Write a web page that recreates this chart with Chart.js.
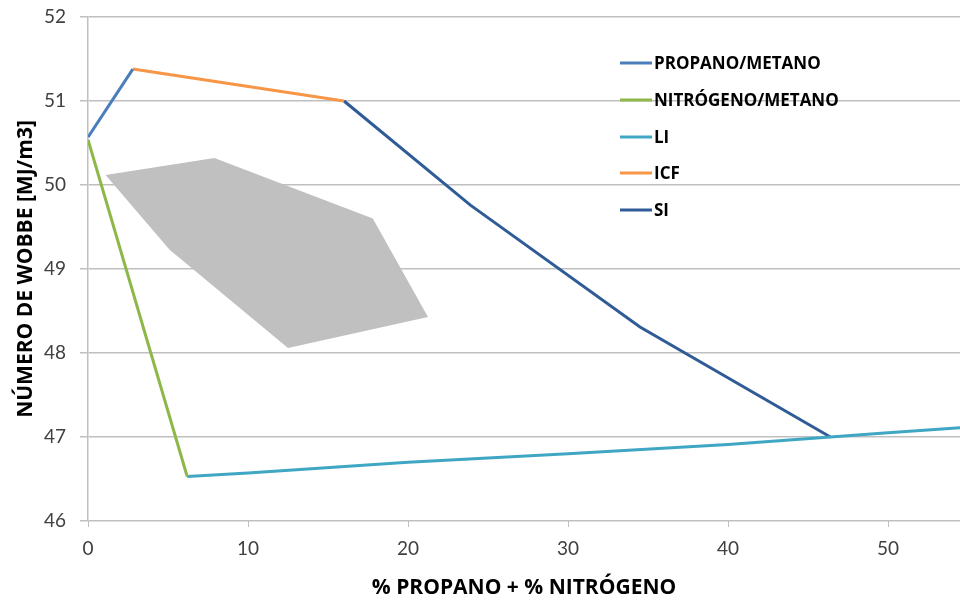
<!DOCTYPE html>
<html>
<head>
<meta charset="utf-8">
<script src="https://cdn.jsdelivr.net/npm/chart.js@4.4.1/dist/chart.umd.min.js"></script>
<style>
  html, body { margin: 0; padding: 0; background: #fff; }
  #wrap { width: 960px; height: 601px; }
</style>
</head>
<body>
<div id="wrap"><canvas id="wobbe" width="960" height="601"></canvas></div>
<script>
// Values: x = % propano + % nitrogeno, y = Wobbe number [MJ/m3]
var propanoX = [0, 2.8];
var propanoY = [50.57, 51.38];

var nitrogenoX = [0, 6.2];
var nitrogenoY = [50.54, 46.53];

var liX = [6.2, 10, 20, 30, 40, 46.4, 50, 54.5];
var liY = [46.53, 46.57, 46.7, 46.8, 46.91, 47.0, 47.05, 47.11];

var icfX = [2.8, 16];
var icfY = [51.38, 51.0];

var siX = [16, 23.9, 34.5, 46.4];
var siY = [51.0, 49.76, 48.31, 47.0];

// grey region (closed polygon)
var zonaX = [1.1, 7.9, 17.8, 21.25, 12.5, 5.1, 1.1];
var zonaY = [50.12, 50.32, 49.6, 48.43, 48.06, 49.23, 50.12];

var yTicks = [46, 47, 48, 49, 50, 51, 52];
var xTicks = [0, 10, 20, 30, 40, 50];

function pts(xs, ys) {
  return xs.map(function (x, i) { return { x: x, y: ys[i] }; });
}

function lineSet(label, xs, ys, color) {
  return {
    label: label,
    data: pts(xs, ys),
    borderColor: color,
    backgroundColor: color,
    borderWidth: 3,
    pointRadius: 0,
    showLine: true,
    fill: false,
    tension: 0
  };
}

// legend drawn inside the plot, like the original
var legendPlugin = {
  id: 'innerLegend',
  afterDatasetsDraw: function (chart) {
    var ctx = chart.ctx;
    var rows = [63, 100, 137, 173, 210];
    var items = chart.data.datasets.filter(function (d) { return d.label; });
    ctx.save();
    ctx.font = 'bold 17px "Open Sans", sans-serif';
    ctx.textBaseline = 'middle';
    ctx.textAlign = 'left';
    items.forEach(function (d, i) {
      ctx.strokeStyle = d.borderColor;
      ctx.lineWidth = 3;
      ctx.beginPath();
      ctx.moveTo(620, rows[i]);
      ctx.lineTo(652, rows[i]);
      ctx.stroke();
      ctx.fillStyle = '#000';
      ctx.fillText(d.label, 654, rows[i] + 1);
    });
    ctx.restore();
  }
};

var ctx = document.getElementById('wobbe').getContext('2d');
var chart = new Chart(ctx, {
  type: 'scatter',
  data: {
    datasets: [
      {
        label: '',
        data: pts(zonaX, zonaY),
        showLine: true,
        borderWidth: 0,
        borderColor: 'rgba(0,0,0,0)',
        backgroundColor: '#C0C0C0',
        pointRadius: 0,
        fill: 'shape',
        order: 10
      },
      lineSet('PROPANO/METANO', propanoX, propanoY, '#4A7EBB'),
      lineSet('NITRÓGENO/METANO', nitrogenoX, nitrogenoY, '#8DB849'),
      lineSet('LI', liX, liY, '#3FA7C4'),
      lineSet('ICF', icfX, icfY, '#F79646'),
      lineSet('SI', siX, siY, '#2F5B96')
    ]
  },
  options: {
    responsive: false,
    animation: false,
    layout: { padding: { top: 17, right: 0, left: 0, bottom: 0 } },
    plugins: {
      legend: { display: false },
      tooltip: { enabled: false }
    },
    scales: {
      x: {
        type: 'linear',
        min: 0,
        max: 54.5,
        afterBuildTicks: function (scale) {
          scale.ticks = xTicks.map(function (v) { return { value: v }; });
        },
        afterFit: function (scale) {
          scale.height = 80;
          scale.paddingLeft = 0;
          scale.paddingRight = 0;
        },
        grid: {
          drawOnChartArea: false,
          drawTicks: true,
          tickLength: 6,
          color: '#BFBFBF'
        },
        border: { display: false },
        ticks: {
          color: '#404040',
          font: { family: 'Lato', size: 19 },
          padding: 10
        },
        title: {
          display: true,
          text: '% PROPANO + % NITRÓGENO',
          color: '#000',
          font: { family: 'Open Sans', size: 21, weight: 'bold' },
          padding: { top: 0, bottom: 0 }
        }
      },
      y: {
        type: 'linear',
        min: 46,
        max: 52,
        afterBuildTicks: function (scale) {
          scale.ticks = yTicks.map(function (v) { return { value: v }; });
        },
        afterFit: function (scale) {
          scale.width = 88;
          scale.paddingTop = 0;
          scale.paddingBottom = 0;
        },
        grid: {
          color: '#BFBFBF',
          lineWidth: 1.5,
          tickLength: 8
        },
        border: { display: true, color: '#BFBFBF', width: 1.5 },
        ticks: {
          color: '#404040',
          font: { family: 'Lato', size: 19 },
          padding: 14
        },
        title: {
          display: true,
          text: 'NÚMERO DE WOBBE [MJ/m3]',
          color: '#000',
          font: { family: 'Open Sans', size: 21, weight: 'bold' },
          padding: { top: 13, bottom: 0 }
        }
      }
    }
  },
  plugins: [legendPlugin]
});
</script>
</body>
</html>
